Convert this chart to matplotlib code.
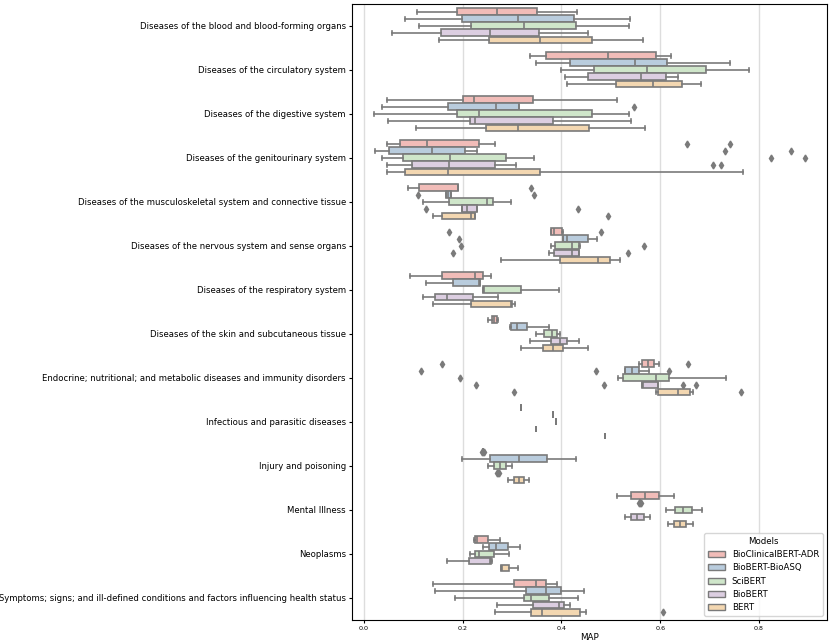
import colorsys
import matplotlib
matplotlib.use('Agg')
from matplotlib import pyplot as plt
from matplotlib.patches import Patch

CATEGORIES = [
    'Diseases of the blood and blood-forming organs',
    'Diseases of the circulatory system',
    'Diseases of the digestive system',
    'Diseases of the genitourinary system',
    'Diseases of the musculoskeletal system and connective tissue',
    'Diseases of the nervous system and sense organs',
    'Diseases of the respiratory system',
    'Diseases of the skin and subcutaneous tissue',
    'Endocrine; nutritional; and metabolic diseases and immunity disorders',
    'Infectious and parasitic diseases',
    'Injury and poisoning',
    'Mental Illness',
    'Neoplasms',
    'Symptoms; signs; and ill-defined conditions and factors influencing health status',
]

MODELS = ['BioClinicalBERT-ADR', 'BioBERT-BioASQ', 'SciBERT', 'BioBERT', 'BERT']

# (whislo, q1, median, q3, whishi) per category
ADR = [
    (0.107, 0.188, 0.270, 0.351, 0.432),
    (0.337, 0.369, 0.494, 0.592, 0.622),
    (0.047, 0.201, 0.223, 0.343, 0.512),
    (0.047, 0.073, 0.128, 0.232, 0.265),
    (0.090, 0.111, 0.190, 0.191, 0.191),
    (0.379, 0.379, 0.385, 0.401, 0.403),
    (0.093, 0.158, 0.225, 0.241, 0.257),
    (0.252, 0.259, 0.263, 0.270, 0.272),
    (0.557, 0.564, 0.575, 0.588, 0.598),
    (0.319, 0.319, 0.319, 0.319, 0.319),
    (0.242, 0.242, 0.242, 0.242, 0.242),
    (0.513, 0.541, 0.570, 0.598, 0.627),
    (0.222, 0.224, 0.228, 0.252, 0.276),
    (0.140, 0.304, 0.349, 0.369, 0.391),
]
BIOASQ = [
    (0.084, 0.199, 0.312, 0.426, 0.539),
    (0.349, 0.417, 0.549, 0.613, 0.742),
    (0.036, 0.170, 0.267, 0.314, 0.314),
    (0.022, 0.051, 0.138, 0.204, 0.229),
    (0.167, 0.167, 0.170, 0.177, 0.177),
    (0.404, 0.404, 0.412, 0.454, 0.471),
    (0.126, 0.180, 0.232, 0.234, 0.234),
    (0.296, 0.298, 0.309, 0.331, 0.375),
    (0.528, 0.528, 0.542, 0.557, 0.578),
    (0.383, 0.383, 0.383, 0.383, 0.383),
    (0.198, 0.255, 0.314, 0.371, 0.429),
    (0.560, 0.560, 0.560, 0.560, 0.560),
    (0.241, 0.253, 0.268, 0.292, 0.317),
    (0.143, 0.329, 0.369, 0.400, 0.445),
]
SCIBERT = [
    (0.111, 0.217, 0.324, 0.430, 0.536),
    (0.399, 0.465, 0.574, 0.693, 0.780),
    (0.020, 0.189, 0.232, 0.462, 0.537),
    (0.036, 0.080, 0.175, 0.288, 0.344),
    (0.120, 0.173, 0.250, 0.261, 0.298),
    (0.378, 0.387, 0.421, 0.436, 0.437),
    (0.242, 0.242, 0.243, 0.319, 0.395),
    (0.349, 0.365, 0.381, 0.391, 0.397),
    (0.514, 0.524, 0.592, 0.618, 0.733),
    (0.389, 0.389, 0.389, 0.389, 0.389),
    (0.252, 0.263, 0.276, 0.288, 0.300),
    (0.611, 0.629, 0.647, 0.665, 0.684),
    (0.215, 0.224, 0.232, 0.263, 0.294),
    (0.185, 0.325, 0.338, 0.375, 0.434),
]
BIOBERT = [
    (0.057, 0.156, 0.255, 0.355, 0.454),
    (0.407, 0.454, 0.561, 0.611, 0.636),
    (0.049, 0.215, 0.225, 0.382, 0.540),
    (0.047, 0.098, 0.173, 0.265, 0.307),
    (0.199, 0.199, 0.208, 0.229, 0.229),
    (0.375, 0.384, 0.421, 0.436, 0.436),
    (0.120, 0.144, 0.169, 0.221, 0.272),
    (0.337, 0.378, 0.398, 0.412, 0.436),
    (0.563, 0.563, 0.566, 0.596, 0.596),
    (0.349, 0.349, 0.349, 0.349, 0.349),
    (0.271, 0.271, 0.271, 0.271, 0.271),
    (0.528, 0.541, 0.554, 0.567, 0.580),
    (0.169, 0.213, 0.255, 0.257, 0.259),
    (0.270, 0.343, 0.394, 0.405, 0.417),
]
BERT = [
    (0.151, 0.254, 0.357, 0.461, 0.565),
    (0.411, 0.511, 0.586, 0.645, 0.682),
    (0.105, 0.248, 0.312, 0.456, 0.570),
    (0.047, 0.083, 0.171, 0.357, 0.767),
    (0.140, 0.157, 0.217, 0.225, 0.225),
    (0.277, 0.397, 0.474, 0.499, 0.519),
    (0.140, 0.217, 0.297, 0.300, 0.305),
    (0.318, 0.363, 0.382, 0.404, 0.454),
    (0.592, 0.595, 0.636, 0.661, 0.667),
    (0.488, 0.488, 0.488, 0.488, 0.488),
    (0.292, 0.303, 0.313, 0.324, 0.334),
    (0.615, 0.627, 0.640, 0.653, 0.667),
    (0.278, 0.278, 0.279, 0.293, 0.311),
    (0.265, 0.338, 0.360, 0.437, 0.450),
]

# outliers: category index -> values
ADR_FLIERS = {3: [0.655, 0.742], 4: [0.339], 5: [0.172, 0.480],
              8: [0.159, 0.657], 10: [0.240, 0.242, 0.244]}
BIOASQ_FLIERS = {2: [0.547], 3: [0.731, 0.865], 4: [0.109, 0.344], 5: [0.193],
                 8: [0.116, 0.469, 0.617], 11: [0.558, 0.560, 0.562]}
SCIBERT_FLIERS = {3: [0.824, 0.893], 5: [0.196, 0.567], 8: [0.195]}
BIOBERT_FLIERS = {3: [0.706, 0.723], 4: [0.125, 0.434], 5: [0.180, 0.534],
                  8: [0.226, 0.486, 0.646, 0.672], 10: [0.269, 0.271, 0.273]}
BERT_FLIERS = {4: [0.495], 8: [0.303, 0.764], 13: [0.606]}

SERIES = [ADR, BIOASQ, SCIBERT, BIOBERT, BERT]
FLIERS = [ADR_FLIERS, BIOASQ_FLIERS, SCIBERT_FLIERS, BIOBERT_FLIERS, BERT_FLIERS]

PASTEL = ['#fbb4ae', '#b3cde3', '#ccebc5', '#decbe4', '#fed9a6']


def desaturate(color, prop=0.75):
    r, g, b = matplotlib.colors.to_rgb(color)
    h, l, s = colorsys.rgb_to_hls(r, g, b)
    return colorsys.hls_to_rgb(h, l, s * prop)


def main():
    colors = [desaturate(c) for c in PASTEL]
    gray = '#7a7a7a'

    fig = plt.figure(figsize=(8.31, 6.44), dpi=100)
    ax = fig.add_subplot(111)
    fig.subplots_adjust(left=0.4236, right=0.995, top=0.994, bottom=0.0373)

    n = len(MODELS)
    width = 0.8 / n
    for j, (series, fliers) in enumerate(zip(SERIES, FLIERS)):
        offset = -0.4 + width * (j + 0.5)
        stats = []
        for i, (lo, q1, med, q3, hi) in enumerate(series):
            stats.append({'whislo': lo, 'q1': q1, 'med': med, 'q3': q3,
                          'whishi': hi, 'fliers': fliers.get(i, [])})
        positions = [i + offset for i in range(len(series))]
        ax.bxp(stats, positions=positions, widths=width * 0.98,
               orientation='horizontal', patch_artist=True,
               boxprops=dict(facecolor=colors[j], edgecolor=gray, linewidth=1.2),
               medianprops=dict(color=gray, linewidth=1.2),
               whiskerprops=dict(color=gray, linewidth=1.2),
               capprops=dict(color=gray, linewidth=1.2),
               flierprops=dict(marker='d', markerfacecolor=gray,
                               markeredgecolor=gray, markersize=3.5),
               manage_ticks=False, zorder=2)

    ax.set_yticks(range(len(CATEGORIES)))
    ax.set_yticklabels(CATEGORIES, fontsize=6.1)
    ax.set_ylim(len(CATEGORIES) - 0.5, -0.5)
    ax.set_xlim(-0.0243, 0.9376)
    ax.set_xticks([0.0, 0.2, 0.4, 0.6, 0.8])
    ax.tick_params(axis='x', labelsize=4.6, pad=2, length=2.5)
    ax.tick_params(axis='y', pad=2, length=2.5)
    ax.grid(axis='x', color='#dddddd', linewidth=1.0, zorder=0)
    ax.set_axisbelow(True)
    ax.set_xlabel('MAP', fontsize=6.3, labelpad=1)

    handles = [Patch(facecolor=colors[j], edgecolor=gray, label=m)
               for j, m in enumerate(MODELS)]
    ax.legend(handles=handles, title='Models', loc='lower right',
              fontsize=6.2, title_fontsize=6.2)

    fig.savefig('out.png', dpi=100)


if __name__ == '__main__':
    main()
